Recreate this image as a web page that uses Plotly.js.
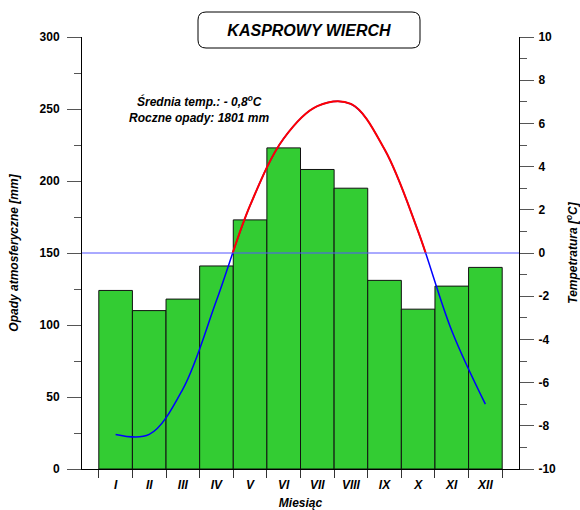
<!DOCTYPE html>
<html><head><meta charset="utf-8">
<script src="https://cdn.plot.ly/plotly-3.0.1.min.js"></script>
<style>html,body{margin:0;padding:0;background:#fff}</style>
</head><body>
<div id="chart" style="width:580px;height:510px"></div>
<script>
const months = ['I','II','III','IV','V','VI','VII','VIII','IX','X','XI','XII'];
const precipitation = [124,110,118,141,173,223,208,195,131,111,127,140];
const temperature = [-8.4,-8.4,-6.3,-2.2,2.2,5.3,6.8,6.9,4.8,1.0,-3.6,-7.0];
const precipTicks = [0,50,100,150,200,250,300];
const tempTicks = [-10,-8,-6,-4,-2,0,2,4,6,8,10];
const titleText = 'KASPROWY WIERCH';
const infoLines = ['Średnia temp.: - 0,8<sup>o</sup>C', 'Roczne opady: 1801 mm'];

const FONT = 'Arial, "Liberation Sans", sans-serif';
const tickF = {family: FONT, size: 12, color: '#000', weight: 'bold'};
const titleF = {family: FONT, size: 12, color: '#000', weight: 'bold', style: 'italic'};

const traces = [
  {type: 'bar', x: months, y: precipitation, xaxis: 'x', yaxis: 'y',
   width: 1, marker: {color: 'rgb(51,204,51)', line: {color: '#111', width: 1}},
   hoverinfo: 'x+y'},
  {type: 'scatter', mode: 'lines', x: months, y: temperature, xaxis: 'x', yaxis: 'y2',
   line: {color: '#0000ff', width: 1.5, shape: 'spline', smoothing: 1}},
  {type: 'scatter', mode: 'lines', x: months, y: temperature, xaxis: 'x2', yaxis: 'y3',
   line: {color: '#ff0000', width: 2, shape: 'spline', smoothing: 1}, hoverinfo: 'skip'}
];

// rounded box for title (paper coords)
const bx0 = (198-82)/437, bx1 = (420-82)/437, byt = (469-12)/432, byb = (469-48)/432;
const rdx = 8/437, rdy = 8/432;
const boxPath = `M ${bx0+rdx},${byt} L ${bx1-rdx},${byt} Q ${bx1},${byt} ${bx1},${byt-rdy} L ${bx1},${byb+rdy} Q ${bx1},${byb} ${bx1-rdx},${byb} L ${bx0+rdx},${byb} Q ${bx0},${byb} ${bx0},${byb+rdy} L ${bx0},${byt-rdy} Q ${bx0},${byt} ${bx0+rdx},${byt} Z`;

const layout = {
  width: 580, height: 510,
  margin: {l: 82, r: 61, t: 37, b: 41, pad: 0},
  paper_bgcolor: '#fff', plot_bgcolor: 'rgba(0,0,0,0)',
  showlegend: false, bargap: 0,
  font: {family: FONT, color: '#000'},
  title: {text: titleText, x: 309/580, y: 1 - 30/510, xanchor: 'center', yanchor: 'middle',
          font: {family: FONT, size: 16, color: '#000', weight: 'bold', style: 'italic'}},
  xaxis: {type: 'category', range: [-1, 12], showline: true, linecolor: '#000', linewidth: 1,
          ticks: 'outside', tickson: 'boundaries', ticklen: 8, tickcolor: '#333', tickwidth: 1,
          ticklabelstandoff: 5,
          tickfont: {family: FONT, size: 12, color: '#000', weight: 'bold', style: 'italic'},
          showgrid: false, zeroline: false, fixedrange: true,
          title: {text: 'Miesiąc', font: titleF, standoff: 10}},
  yaxis: {range: [0, 300], tickmode: 'array', tickvals: precipTicks, ticktext: precipTicks.map(String),
          ticks: 'outside', ticklen: 14, tickcolor: '#555', tickwidth: 1, ticklabelstandoff: 5,
          minor: {dtick: 25, tick0: 0, ticks: 'outside', ticklen: 7, tickcolor: '#555', tickwidth: 1, showgrid: false},
          showline: true, linecolor: '#000', linewidth: 1, showgrid: false, zeroline: false,
          tickfont: tickF, fixedrange: true,
          title: {text: 'Opady atmosferyczne [mm]', font: titleF, standoff: 18}},
  yaxis2: {overlaying: 'y', side: 'right', anchor: 'x', range: [-10, 10],
           tickmode: 'array', tickvals: tempTicks, ticktext: tempTicks.map(String),
           ticks: 'outside', ticklen: 14, tickcolor: '#555', tickwidth: 1, ticklabelstandoff: 2,
           minor: {dtick: 1, tick0: 0, ticks: 'outside', ticklen: 7, tickcolor: '#555', tickwidth: 1, showgrid: false},
           showline: true, linecolor: '#000', linewidth: 1, showgrid: false, zeroline: false,
           tickfont: tickF, fixedrange: true,
           title: {text: 'Tempetratura [<sup>o</sup>C]', font: titleF, standoff: 17}},
  xaxis2: {type: 'category', range: [-1, 12], anchor: 'y3', visible: false, fixedrange: true},
  yaxis3: {domain: [0.5, 1], range: [0, 10], anchor: 'x2', visible: false, fixedrange: true},
  shapes: [
    {type: 'line', xref: 'x domain', x0: 0, x1: 1, yref: 'y2', y0: 0, y1: 0,
     line: {color: 'rgb(85,85,255)', width: 1}, layer: 'above'},
    {type: 'path', xref: 'paper', yref: 'paper', path: boxPath,
     line: {color: '#000', width: 1}, fillcolor: '#fff', layer: 'below'}
  ],
  annotations: [
    {xref: 'paper', yref: 'paper', x: (199-82)/437, y: (469-101)/432, xanchor: 'center', yanchor: 'middle',
     text: infoLines[0], showarrow: false, font: {family: FONT, size: 12, color: '#000', weight: 'bold', style: 'italic'}},
    {xref: 'paper', yref: 'paper', x: (199-82)/437, y: (469-118)/432, xanchor: 'center', yanchor: 'middle',
     text: infoLines[1], showarrow: false, font: {family: FONT, size: 12, color: '#000', weight: 'bold', style: 'italic'}}
  ]
};

Plotly.newPlot('chart', traces, layout, {displayModeBar: false, staticPlot: true});
</script>
</body></html>
